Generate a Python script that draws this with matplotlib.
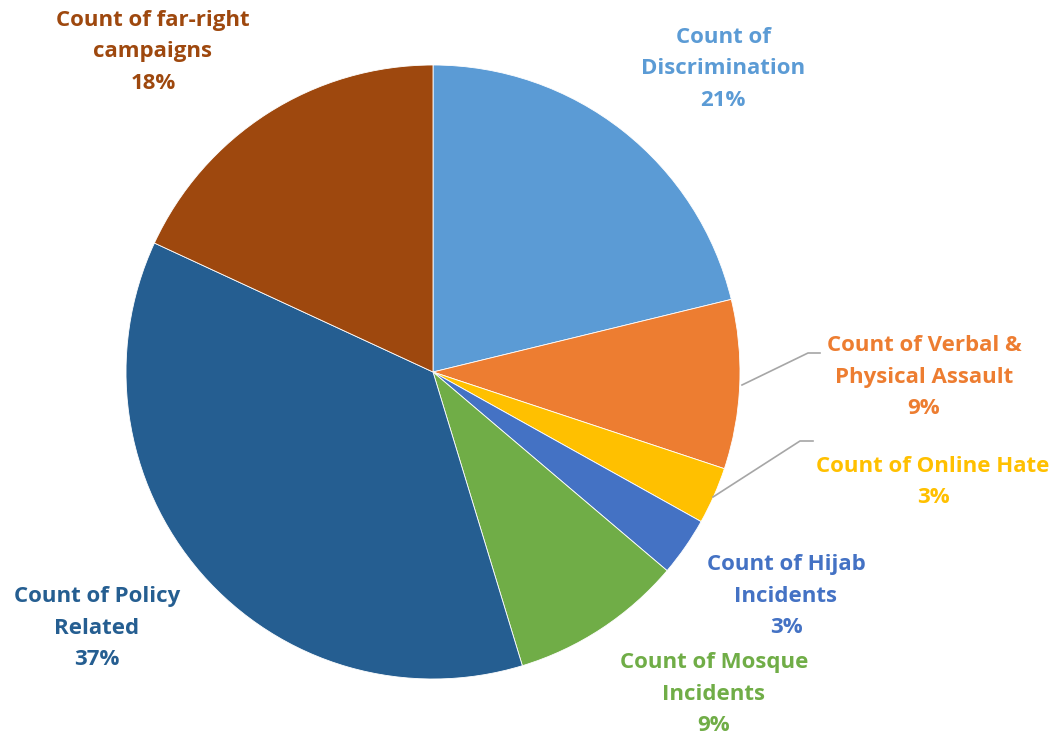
import matplotlib.pyplot as plt

labels = ["Count of\nDiscrimination", "Count of Verbal &\nPhysical Assault", "Count of Online Hate",
          "Count of Hijab\nIncidents", "Count of Mosque\nIncidents", "Count of Policy\nRelated",
          "Count of far-right\ncampaigns"]
shares = [21.2, 8.9, 3.0, 3.1, 9.1, 36.6, 18.1]
colors = ["#5B9BD5", "#ED7D31", "#FFC000", "#4472C4", "#70AD47", "#255E91", "#9E480E"]

# label block centres in pixels (x, y from top)
label_pos = [(723, 69), (924, 377), (933, 482), (786, 596), (714, 694), (97, 628), (153, 52)]
W, H = 1061, 740
cx, cy, r = 433, 372, 307

fig = plt.figure(figsize=(W / 100, H / 100), dpi=100)
ax = fig.add_axes([0, 0, 1, 1])

ax.pie(shares, colors=colors, startangle=90, counterclock=False, center=(cx, H - cy), radius=r,
       wedgeprops=dict(edgecolor="white", linewidth=0.6), frame=True)
ax.set_xlim(0, W)
ax.set_ylim(0, H)
ax.set_aspect("equal")
ax.axis("off")

total = sum(shares)
for lab, v, c, (x, y) in zip(labels, shares, colors, label_pos):
    ax.text(x, H - y, lab + "\n" + f"{v / total * 100:.0f}%", color=c, ha="center", va="center",
            fontsize=16, fontweight="bold", family="Open Sans", linespacing=1.65)

# leader lines
ax.plot([742, 808, 820], [H - 385, H - 353, H - 353], color="#A6A6A6", lw=1.2)
ax.plot([713, 800, 813], [H - 497, H - 441, H - 441], color="#A6A6A6", lw=1.2)

fig.savefig("out.png", dpi=100)
